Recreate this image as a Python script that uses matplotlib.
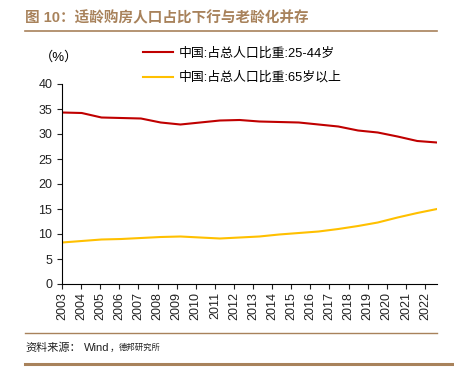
import numpy as np
import matplotlib.pyplot as plt
from matplotlib.lines import Line2D

plt.rcParams['font.family'] = ['Liberation Sans', 'Noto Sans CJK SC', 'DejaVu Sans']

# data
years = list(range(2003, 2023))
age_25_44 = [34.3, 34.2, 33.3, 33.2, 33.1, 32.3, 31.9, 32.3, 32.7, 32.8,
             32.5, 32.4, 32.3, 31.9, 31.5, 30.7, 30.3, 29.5, 28.6, 28.3]
age_65_up = [8.3, 8.6, 8.9, 9.0, 9.2, 9.4, 9.5, 9.3, 9.1, 9.3,
             9.5, 9.9, 10.2, 10.5, 11.0, 11.6, 12.3, 13.3, 14.2, 15.0]
labels = ['中国:占总人口比重:25-44岁', '中国:占总人口比重:65岁以上']

brown = '#a8825b'
red = '#c00000'
yellow = '#ffc000'
W, H = 454, 367

fig = plt.figure(figsize=(4.54, 3.67), dpi=100)
ax = fig.add_axes([62 / W, 1 - 284 / H, (437 - 62) / W, 200 / H])

# line runs slightly past the last year tick in the original
xpos = np.linspace(2003, 2022.63, len(years))
ax.plot(xpos, age_25_44, color=red, lw=1.5)
ax.plot(xpos, age_65_up, color=yellow, lw=1.5)

ax.set_xlim(2003, 2022.63)
ax.set_ylim(0, 40)
ax.set_yticks(range(0, 41, 5))
ax.set_xticks(years)
ax.set_xticklabels([str(y) for y in years], rotation=90)
ax.tick_params(labelsize=9, length=3.5, width=0.8, colors='#222222')
ax.tick_params(axis='y', pad=3.5)
ax.tick_params(axis='x', pad=2.5)
for s in ['top', 'right']:
    ax.spines[s].set_visible(False)
for s in ['left', 'bottom']:
    ax.spines[s].set_linewidth(0.8)

# legend and unit
handles = [Line2D([], [], color=red, lw=1.5), Line2D([], [], color=yellow, lw=1.5)]
fig.legend(handles, labels, loc='upper left', bbox_to_anchor=(143 / W, 1 - 47 / H),
           frameon=False, fontsize=9.3, handlelength=2.3, handletextpad=0.45,
           labelspacing=0.95, borderaxespad=0, borderpad=0)
fig.text(40 / W, 1 - 57 / H, '（%）', fontsize=9.5, va='center', ha='left')

# title, rules and source
fig.text(25 / W, 1 - 18 / H, '图 10：适龄购房人口占比下行与老龄化并存', fontsize=10.5,
         fontweight='bold', color=brown, va='center', ha='left')
fig.add_artist(Line2D([25 / W, 437 / W], [1 - 31 / H] * 2, color=brown, lw=1.2))
fig.add_artist(Line2D([25 / W, 437 / W], [1 - 333 / H] * 2, color=brown, lw=1.0))
fig.add_artist(Line2D([25 / W, 1.0], [1 - 364 / H] * 2, color=brown, lw=2.2))
src_y = 1 - 348 / H
fig.text(25 / W, src_y, '资料来源：', fontsize=8, color='#222222', va='center', ha='left')
fig.text(84 / W, src_y, 'Wind', fontsize=8, color='#222222', va='center', ha='left')
fig.text(110 / W, src_y, '，', fontsize=7, color='#222222', va='center', ha='left')
fig.text(119 / W, src_y, '德邦研究所', fontsize=6, color='#222222', va='center', ha='left')

fig.savefig('out.png', dpi=100)
